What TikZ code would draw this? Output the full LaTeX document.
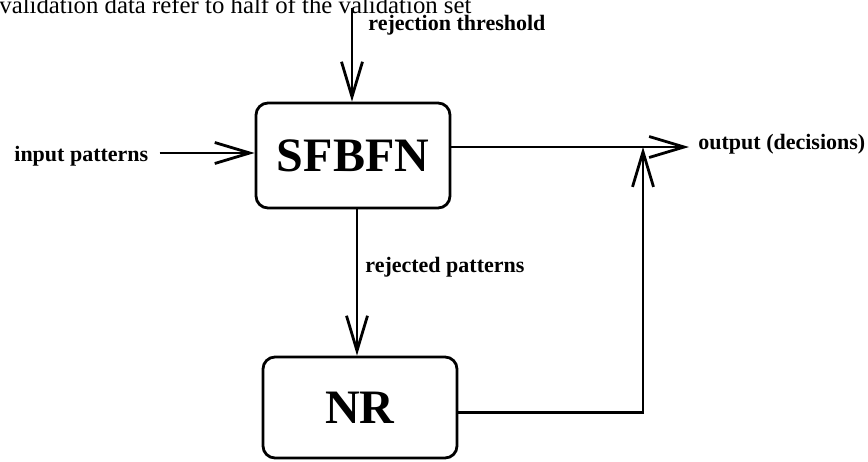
\documentclass[tikz,border=0pt]{standalone}
\usepackage{fontspec}
\setmainfont{Liberation Serif}
\usetikzlibrary{arrows.meta,calc}
\begin{document}
\begin{tikzpicture}[x=1pt,y=-1pt,
  line width=2.8pt,
  arr/.style={-{Straight Barb[length=35pt,width=21pt,line width=2.8pt]}},
  blk/.style={draw,rounded corners=12pt,minimum width=194pt,inner sep=0pt,
    font=\fontsize{48}{50}\selectfont\bfseries},
  lbl/.style={inner sep=0pt,font=\fontsize{22}{25}\selectfont\bfseries}]
\useasboundingbox (0,0) rectangle (868,461);
\begin{scope}
\clip (0,0) rectangle (868,461);
\node[anchor=base west,inner sep=0pt] (cap) at (-2,13)
  {\resizebox{472pt}{!}{validation data refer to half of the validation set}};
\end{scope}
% blocks
\node[blk,minimum height=105pt] (sfbfn) at (353,155.5) {SFBFN};
\node[blk,minimum height=101pt] (nr) at (360,407.5) {NR};
% labels
\node[lbl,anchor=west] (thrl) at (367,25) {rejection threshold};
\node[lbl,anchor=west] (inp) at (13,156) {input patterns};
\node[lbl,anchor=west] (outp) at (697,144) {output (decisions)};
\node[lbl,anchor=west] (rejl) at (364,267) {rejected patterns};
% connector points
\coordinate (thr) at (352,8);
\coordinate (j) at (643,147);
% connectors
\draw[arr] (thr) -- (thr |- sfbfn.north);
\draw[arr] ([xshift=10pt]inp.east |- 0,153) -- (sfbfn.west |- 0,153);
\draw[arr] (sfbfn.east |- j) -- ([xshift=-8pt]outp.west |- j);
\draw[arr] ([yshift=-5pt]nr.east) -| (j);
\draw[arr] ([xshift=4pt]sfbfn.south) -- ([xshift=4pt]sfbfn.south |- nr.north);
\end{tikzpicture}
\end{document}
